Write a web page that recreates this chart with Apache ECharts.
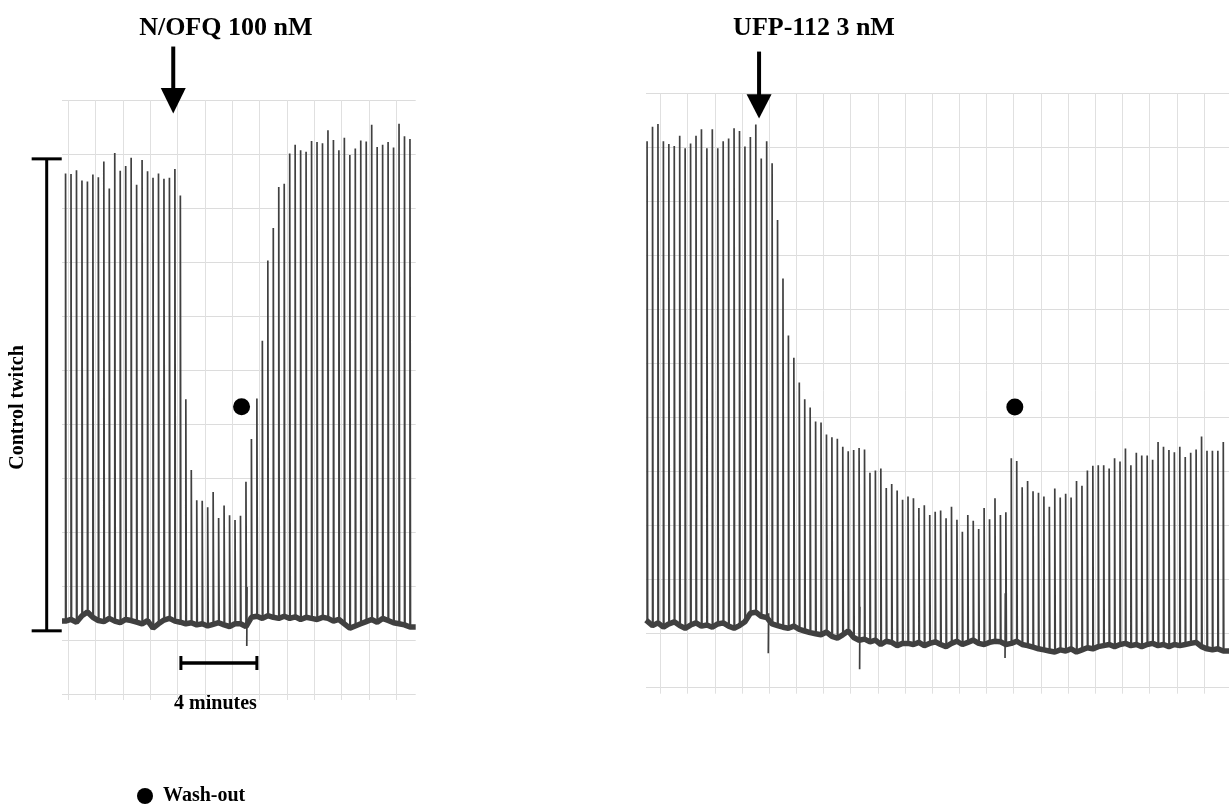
<!DOCTYPE html>
<html><head><meta charset="utf-8">
<script src="https://cdn.jsdelivr.net/npm/echarts@6/dist/echarts.min.js"></script>
<style>html,body{margin:0;padding:0;background:#fff}#c{width:1229px;height:804px}</style>
</head><body><div id="c"></div><script>
// ---------- data (y in grid units of the trace, x in grid-column units) ----------
const spikePeriod = 0.2;            // five stimuli per grid column
const leftFirstSpike = -0.1;
const rightFirstSpike = -0.49;

const leftPeaks = [9.64, 9.63, 9.70, 9.51, 9.49, 9.62, 9.57, 9.86, 9.36, 10.02,
  9.69, 9.78, 9.93, 9.43, 9.89, 9.68, 9.56, 9.64, 9.54, 9.56,
  9.72, 9.23, 5.46, 4.15, 3.59, 3.58, 3.46, 3.74, 3.26, 3.49,
  3.31, 3.22, 3.30, 3.93, 4.72, 5.47, 6.54, 8.03, 8.63, 9.39,
  9.45, 10.01, 10.17, 10.07, 10.04, 10.24, 10.22, 10.20, 10.44, 10.26,
  10.07, 10.30, 9.98, 10.10, 10.25, 10.23, 10.54, 10.13, 10.17, 10.22,
  10.12, 10.56, 10.33, 10.28];
const leftBase = [1.35, 1.38, 1.33, 1.45, 1.52, 1.42, 1.36, 1.34, 1.40, 1.35,
  1.32, 1.38, 1.36, 1.33, 1.30, 1.36, 1.22, 1.30, 1.37, 1.40,
  1.35, 1.33, 1.30, 1.32, 1.28, 1.30, 1.26, 1.29, 1.32, 1.28,
  1.25, 1.30, 1.30, 1.25, 1.42, 1.44, 1.40, 1.45, 1.42, 1.40,
  1.44, 1.40, 1.43, 1.38, 1.42, 1.40, 1.38, 1.42, 1.40, 1.35,
  1.38, 1.30, 1.22, 1.26, 1.30, 1.34, 1.38, 1.33, 1.40, 1.36,
  1.32, 1.30, 1.28, 1.24];
const leftArtifacts = [[6.53, 0.89, 1.98]];   // [x, low, high]

const rightPeaks = [10.12, 10.39, 10.44, 10.12, 10.07, 10.03, 10.22, 9.99, 10.08, 10.22,
  10.34, 9.99, 10.34, 9.99, 10.12, 10.17, 10.36, 10.31, 10.02, 10.20,
  10.43, 9.80, 10.12, 9.71, 8.66, 7.58, 6.52, 6.11, 5.65, 5.34,
  5.19, 4.93, 4.91, 4.69, 4.64, 4.61, 4.46, 4.38, 4.40, 4.44,
  4.41, 3.98, 4.02, 4.06, 3.70, 3.77, 3.65, 3.48, 3.54, 3.51,
  3.33, 3.38, 3.20, 3.26, 3.28, 3.14, 3.35, 3.11, 2.89, 3.20,
  3.09, 2.94, 3.33, 3.12, 3.51, 3.20, 3.25, 4.25, 4.20, 3.71,
  3.83, 3.64, 3.61, 3.54, 3.35, 3.69, 3.52, 3.59, 3.52, 3.83,
  3.74, 4.02, 4.11, 4.12, 4.12, 4.06, 4.25, 4.19, 4.43, 4.12,
  4.35, 4.30, 4.30, 4.22, 4.55, 4.46, 4.40, 4.36, 4.46, 4.27,
  4.35, 4.41, 4.65, 4.39, 4.39, 4.39, 4.55];
const rightBase = [1.25, 1.15, 1.20, 1.12, 1.18, 1.22, 1.15, 1.10, 1.16, 1.20,
  1.14, 1.16, 1.12, 1.18, 1.20, 1.14, 1.10, 1.15, 1.22, 1.38,
  1.40, 1.32, 1.30, 1.18, 1.15, 1.12, 1.10, 1.14, 1.08, 1.05,
  1.02, 1.00, 0.98, 1.03, 0.95, 0.92, 0.98, 1.05, 0.93, 0.88,
  0.90, 0.85, 0.88, 0.80, 0.86, 0.84, 0.78, 0.82, 0.82, 0.80,
  0.84, 0.78, 0.82, 0.85, 0.80, 0.76, 0.82, 0.86, 0.80, 0.84,
  0.88, 0.82, 0.80, 0.84, 0.86, 0.85, 0.80, 0.82, 0.86, 0.80,
  0.78, 0.75, 0.72, 0.70, 0.68, 0.66, 0.70, 0.68, 0.72, 0.66,
  0.70, 0.74, 0.72, 0.76, 0.78, 0.80, 0.76, 0.80, 0.82, 0.78,
  0.80, 0.76, 0.80, 0.82, 0.78, 0.80, 0.76, 0.80, 0.78, 0.80,
  0.82, 0.84, 0.76, 0.72, 0.70, 0.72, 0.68];
const rightArtifacts = [[3.97, 0.64, 1.38], [7.33, 0.34, 1.50], [12.68, 0.55, 1.75]];

// drug application arrows: [x, shaftTop, headTop, tip]
const leftArrow = [3.84, 11.99, 11.22, 10.75];
const rightArrow = [3.63, 11.78, 10.99, 10.54];
// wash-out markers: [x, y]
const leftWash = [6.34, 5.32];
const rightWash = [13.04, 5.20];
// control twitch bracket: [x, top, bottom, capLeft, capRight]
const bracket = [-0.79, 9.91, 1.17, -1.34, -0.24];
// 4 minute scale bar: [xStart, xEnd, y]
const scaleBar = [4.12, 6.90, 0.574];

const titles = ['N/OFQ 100 nM', 'UFP-112 3 nM'];

// ---------- helpers ----------
function trace(first, peaks, base, artifacts) {
  const d = [];
  peaks.forEach((p, i) => {
    const u = first + spikePeriod * i;
    d.push([u, base[i]], [u, p], [u + 0.02, base[i]], [u + 0.02, '-']);
  });
  artifacts.forEach(a => { d.push([a[0], a[1]], [a[0] + 0.01, a[2]], [a[0] + 0.01, '-']); });
  return d;
}
function baseline(first, base, xmin, xmax) {
  const d = [[xmin, base[0]]];
  base.forEach((b, i) => d.push([first + spikePeriod * i, b]));
  d.push([xmax, base[base.length - 1]]);
  return d;
}
function arrowItem(params, api) {
  const a = api.coord([api.value(0), api.value(1)]);
  const h = api.coord([api.value(0), api.value(2)]);
  const t = api.coord([api.value(0), api.value(3)]);
  return { type: 'group', children: [
    { type: 'line', shape: { x1: a[0], y1: a[1], x2: h[0], y2: h[1] + 2 }, style: { stroke: '#000', lineWidth: 4 } },
    { type: 'polygon', shape: { points: [[h[0] - 12.5, h[1]], [h[0] + 12.5, h[1]], [t[0], t[1]]] }, style: { fill: '#000' } }
  ]};
}
function bracketItem(params, api) {
  const top = api.coord([api.value(0), api.value(1)]);
  const bot = api.coord([api.value(0), api.value(2)]);
  const l = api.coord([api.value(3), api.value(1)])[0];
  const r = api.coord([api.value(4), api.value(1)])[0];
  const st = { stroke: '#000', lineWidth: 3 };
  return { type: 'group', children: [
    { type: 'line', shape: { x1: top[0], y1: top[1], x2: bot[0], y2: bot[1] }, style: st },
    { type: 'line', shape: { x1: l, y1: top[1], x2: r, y2: top[1] }, style: st },
    { type: 'line', shape: { x1: l, y1: bot[1], x2: r, y2: bot[1] }, style: st }
  ]};
}
function scaleItem(params, api) {
  const a = api.coord([api.value(0), api.value(2)]);
  const b = api.coord([api.value(1), api.value(2)]);
  const st = { stroke: '#000', lineWidth: 3.5 };
  return { type: 'group', children: [
    { type: 'line', shape: { x1: a[0], y1: a[1], x2: b[0], y2: b[1] }, style: st },
    { type: 'line', shape: { x1: a[0], y1: a[1] - 7, x2: a[0], y2: a[1] + 7 }, style: { stroke: '#000', lineWidth: 3 } },
    { type: 'line', shape: { x1: b[0], y1: b[1] - 7, x2: b[0], y2: b[1] + 7 }, style: { stroke: '#000', lineWidth: 3 } }
  ]};
}

const gridColor = '#e0e0e0';
const vAxis = (grid, max) => ({
  type: 'value', gridIndex: grid, min: 0, max: max, interval: 1,
  axisLine: { show: false }, axisLabel: { show: false },
  axisTick: { show: true, length: 6, lineStyle: { color: gridColor, width: 1 } },
  splitLine: { show: true, lineStyle: { color: gridColor, width: 1 } }
});
const hAxis = (grid) => ({
  type: 'value', gridIndex: grid, min: 0, max: 11, interval: 1,
  axisLine: { show: false }, axisLabel: { show: false }, axisTick: { show: false },
  splitLine: { show: true, lineStyle: { color: '#dcdcdc', width: 1.2 } }
});

const L = { xmin: -0.23, xmax: 12.71 };
const R = { xmin: -0.53, xmax: 20.92 };
const traceColor = '#404040';
const font = '"Liberation Serif", "Times New Roman", serif';
const txt = (t, size) => ({ text: t, font: 'bold ' + size + 'px ' + font, fill: '#000', align: 'center', verticalAlign: 'middle', textAlign: 'center', textVerticalAlign: 'middle' });

const option = {
  animation: false,
  backgroundColor: '#fff',
  grid: [
    { left: 62, top: 100, width: 353.7, height: 594 },
    { left: 68.3, top: 100, width: 328, height: 594 },
    { left: 646, top: 93.7, width: 583, height: 594 },
    { left: 660.4, top: 93.7, width: 543.6, height: 594 }
  ],
  xAxis: [
    { type: 'value', gridIndex: 0, min: L.xmin, max: L.xmax, show: false },
    vAxis(1, 12),
    { type: 'value', gridIndex: 2, min: R.xmin, max: R.xmax, show: false },
    vAxis(3, 20)
  ],
  yAxis: [
    hAxis(0),
    { type: 'value', gridIndex: 1, min: 0, max: 1, show: false },
    hAxis(2),
    { type: 'value', gridIndex: 3, min: 0, max: 1, show: false }
  ],
  legend: {
    left: 137, top: 786, padding: 0, itemWidth: 16, itemHeight: 16, icon: 'circle',
    data: ['Wash-out'],
    textStyle: { fontFamily: font, fontWeight: 'bold', fontSize: 20, color: '#000', padding: [0, 0, 0, 5] }
  },
  graphic: [
    { type: 'text', x: 225.8, y: 28, style: txt(titles[0], 26) },
    { type: 'text', x: 814, y: 28, style: txt(titles[1], 26) },
    { type: 'text', x: 18.3, y: 407.5, rotation: Math.PI / 2, style: txt('Control twitch', 20) },
    { type: 'text', x: 215.5, y: 704, style: txt('4 minutes', 20) }
  ],
  series: [
    { type: 'line', xAxisIndex: 0, yAxisIndex: 0, data: baseline(leftFirstSpike, leftBase, L.xmin, L.xmax), symbol: 'none', silent: true, lineStyle: { color: traceColor, width: 5.5 } },
    { type: 'line', xAxisIndex: 0, yAxisIndex: 0, data: trace(leftFirstSpike, leftPeaks, leftBase, leftArtifacts), symbol: 'none', silent: true, lineStyle: { color: traceColor, width: 1.7 } },
    { type: 'line', xAxisIndex: 2, yAxisIndex: 2, data: baseline(rightFirstSpike, rightBase, R.xmin, R.xmax), symbol: 'none', silent: true, lineStyle: { color: traceColor, width: 5.5 } },
    { type: 'line', xAxisIndex: 2, yAxisIndex: 2, data: trace(rightFirstSpike, rightPeaks, rightBase, rightArtifacts), symbol: 'none', silent: true, lineStyle: { color: traceColor, width: 1.7 } },
    { type: 'custom', xAxisIndex: 0, yAxisIndex: 0, clip: false, silent: true, data: [leftArrow], renderItem: arrowItem },
    { type: 'custom', xAxisIndex: 2, yAxisIndex: 2, clip: false, silent: true, data: [rightArrow], renderItem: arrowItem },
    { type: 'custom', xAxisIndex: 0, yAxisIndex: 0, clip: false, silent: true, data: [bracket], renderItem: bracketItem },
    { type: 'custom', xAxisIndex: 0, yAxisIndex: 0, clip: false, silent: true, data: [scaleBar], renderItem: scaleItem },
    { name: 'Wash-out', type: 'scatter', xAxisIndex: 0, yAxisIndex: 0, data: [leftWash], symbol: 'circle', symbolSize: 17, itemStyle: { color: '#000', opacity: 1 }, silent: true, z: 5 },
    { name: 'Wash-out', type: 'scatter', xAxisIndex: 2, yAxisIndex: 2, data: [rightWash], symbol: 'circle', symbolSize: 17, itemStyle: { color: '#000', opacity: 1 }, silent: true, z: 5 }
  ]
};
const chart = echarts.init(document.getElementById('c'), null, { renderer: 'canvas' });
chart.setOption(option);
</script></body></html>
